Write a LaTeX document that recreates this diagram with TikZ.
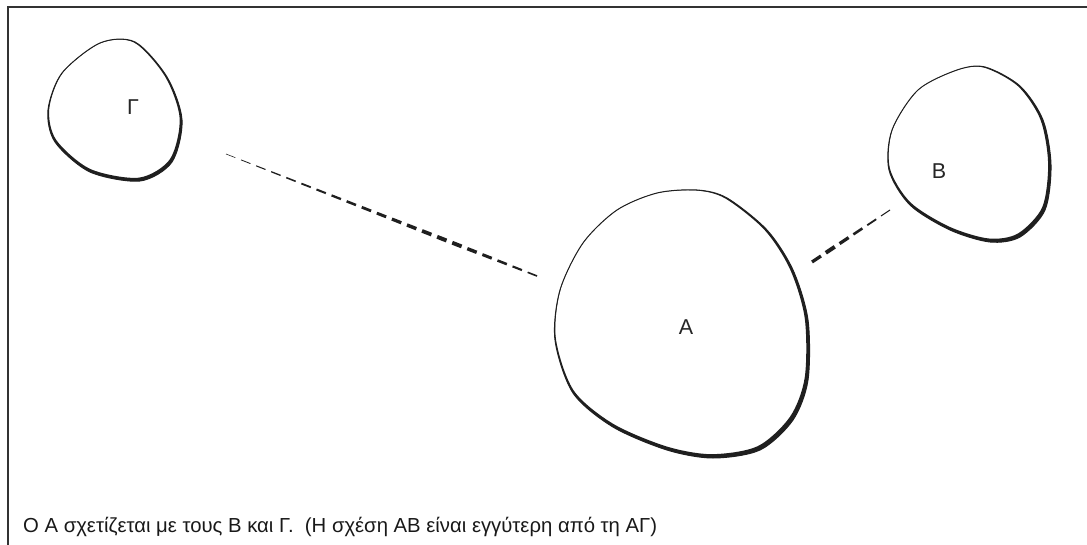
\documentclass[tikz,border=0pt]{standalone}
\usepackage{fontspec}
\setmainfont{Liberation Sans}
\usetikzlibrary{calc}
\begin{document}
\begin{tikzpicture}[x=1pt,y=-1pt,
  ink/.style={black!88},
  blobline/.style={draw=black!88, line width=1pt},
  blobfill/.style={fill=black!88, even odd rule},
  lbl/.style={font=\fontsize{21.5}{24}\selectfont, text=black!85, inner sep=0pt},
  caption/.style={font=\fontsize{20.3}{24}\selectfont, text=black!90, anchor=base west, inner sep=0pt}]
\useasboundingbox (0,0) rectangle (1087,545);
\fill[white] (0,0) rectangle (1087,545);
% frame
\coordinate (tl) at (8,7);
\coordinate (tr) at (1087,7);
\coordinate (bl) at (8,545);
\draw[line width=1.8pt, black!80] (tr) -- (tl) -- (bl);

% blob Gamma
\draw[blobline] plot[smooth cycle] coordinates {(100,43) (135,42) (167,77) (182,120) (172,162) (140,181) (90,172) (55,142) (48,110) (62,73)};
\fill[blobfill] plot[smooth cycle] coordinates {(100,43) (135,42) (167,77) (182,120) (172,162) (140,181) (90,172) (55,142) (48,110) (62,73)}
  [shift={(95,58)}, scale=0.973, shift={(-95,-58)}] plot[smooth cycle] coordinates {(100,43) (135,42) (167,77) (182,120) (172,162) (140,181) (90,172) (55,142) (48,110) (62,73)};
\node[lbl] (G) at (133,107) {Γ};

% blob B
\draw[blobline] plot[smooth cycle] coordinates {(957,70) (985,67) (1020,86) (1043,120) (1051,165) (1045,210) (1020,237) (990,242) (950,230) (910,205) (889,170) (892,130) (918,90)};
\fill[blobfill] plot[smooth cycle] coordinates {(957,70) (985,67) (1020,86) (1043,120) (1051,165) (1045,210) (1020,237) (990,242) (950,230) (910,205) (889,170) (892,130) (918,90)}
  [shift={(925,88)}, scale=0.977, shift={(-925,-88)}] plot[smooth cycle] coordinates {(957,70) (985,67) (1020,86) (1043,120) (1051,165) (1045,210) (1020,237) (990,242) (950,230) (910,205) (889,170) (892,130) (918,90)};
\node[lbl] (B) at (939,171) {Β};

% blob A
\draw[blobline] plot[smooth cycle] coordinates {(657,193) (697,190) (727,198) (767,230) (793,270) (808,320) (808,380) (793,420) (760,450) (713,458) (667,450) (613,427) (573,393) (555,340) (560,290) (583,243) (617,210)};
\fill[blobfill] plot[smooth cycle] coordinates {(657,193) (697,190) (727,198) (767,230) (793,270) (808,320) (808,380) (793,420) (760,450) (713,458) (667,450) (613,427) (573,393) (555,340) (560,290) (583,243) (617,210)}
  [shift={(605,218)}, scale=0.984, shift={(-605,-218)}] plot[smooth cycle] coordinates {(657,193) (697,190) (727,198) (767,230) (793,270) (808,320) (808,380) (793,420) (760,450) (713,458) (667,450) (613,427) (573,393) (555,340) (560,290) (583,243) (617,210)};
\node[lbl] (A) at (686,327) {Α};

% dashed relation Gamma - A
\coordinate (g1) at (226,154);
\coordinate (a1) at (537,276);
\foreach \i in {0,...,20}{
  \pgfmathsetmacro\ta{\i/20.62}
  \pgfmathsetmacro\tb{\ta+0.62/20.62}
  \pgfmathsetmacro\tm{(\ta+\tb)/2}
  \pgfmathsetmacro\w{\tm<0.72 ? 0.5+3.6*\tm/0.72 : 4.1-2.6*(\tm-0.72)/0.28}
  \draw[ink, line width=\w pt] ($(g1)!\ta!(a1)$) -- ($(g1)!\tb!(a1)$);
}
% dashed relation A - B
\coordinate (a2) at (812,262);
\coordinate (b2) at (890,210);
\foreach \i in {0,...,5}{
  \pgfmathsetmacro\ta{\i/5.65}
  \pgfmathsetmacro\tb{\ta+0.65/5.65}
  \pgfmathsetmacro\tm{(\ta+\tb)/2}
  \pgfmathsetmacro\w{\tm<0.25 ? 3.0+1.0*\tm/0.25 : 4.0-3.2*(\tm-0.25)/0.75}
  \draw[ink, line width=\w pt] ($(a2)!\ta!(b2)$) -- ($(a2)!\tb!(b2)$);
}

% caption
\node[caption] (cap) at (23,532) {Ο Α σχετίζεται με τους Β και Γ.\ \ (Η σχέση ΑΒ είναι εγγύτερη από τη ΑΓ)};
\end{tikzpicture}
\end{document}
